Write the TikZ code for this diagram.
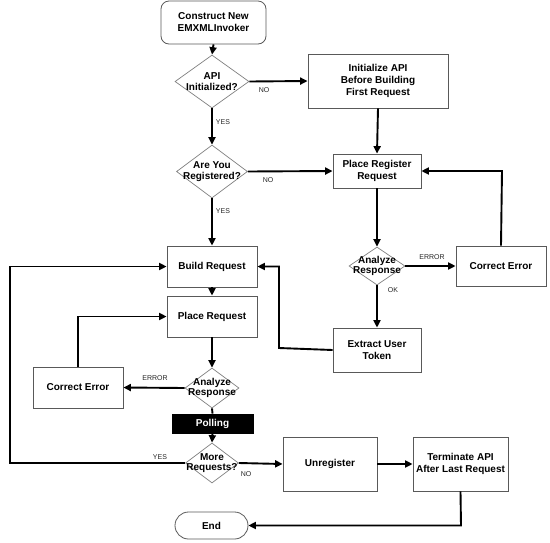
\documentclass[tikz,border=0pt]{standalone}
\usepackage{fontspec}
\setmainfont{Liberation Sans}
\usetikzlibrary{arrows.meta,shapes.geometric,shapes.misc}
\begin{document}
\begin{tikzpicture}[x=1pt,y=-1pt,
  box/.style={draw=black!65,line width=0.8pt,rectangle,inner sep=0pt,align=center,font=\fontsize{10}{12}\selectfont\bfseries},
  dia/.style={draw=black!50,line width=0.7pt,diamond,inner sep=0pt},
  dtext/.style={inner sep=0pt,align=center,font=\fontsize{10}{10.5}\selectfont\bfseries},
  lab/.style={inner sep=0pt,font=\fontsize{7}{8}\selectfont,text=black!85},
  con/.style={line width=1.9pt,-{Triangle[length=7.5pt,width=7pt]}},
  seg/.style={line width=1.9pt}
]
\useasboundingbox (0,0) rectangle (550,542);
\fill[white] (0,0) rectangle (550,542);

% nodes
\node[box,rounded corners=8pt,minimum width=105pt,minimum height=43pt] (start) at (213.5,22.5) {Construct New\\EMXMLInvoker};
\node[dia,minimum width=74pt,minimum height=53pt] (d1) at (212,81.5) {};
\node[dtext] (d1t) at (212,81.5) {API\\Initialized?};
\node[box,minimum width=140pt,minimum height=54pt] (init) at (378,81) {Initialize API\\Before Building\\First Request};
\node[dia,minimum width=71pt,minimum height=53pt] (d2) at (212,171.5) {};
\node[dtext] (d2t) at (212,171.5) {Are You\\Registered?};
\node[box,minimum width=88pt,minimum height=34pt] (reg) at (377,171) {Place Register\\Request};
\node[box,minimum width=90pt,minimum height=41pt] (build) at (212,266.5) {Build Request};
\node[box,minimum width=90pt,minimum height=41pt] (place) at (212,316.5) {Place Request};
\node[dia,minimum width=56pt,minimum height=38pt] (d3) at (377,266) {};
\node[dtext] (d3t) at (377,266) {Analyze\\Response};
\node[box,minimum width=90pt,minimum height=40pt] (err1) at (501,266) {Correct Error};
\node[box,minimum width=88pt,minimum height=44pt] (token) at (377,350) {Extract User\\Token};
\node[dia,minimum width=54pt,minimum height=40pt] (d4) at (212,388) {};
\node[dtext] (d4t) at (212,388) {Analyze\\Response};
\node[box,minimum width=90pt,minimum height=41pt] (err2) at (78,387.5) {Correct Error};
\node[box,draw=black,fill=black,text=white,minimum width=81pt,minimum height=19pt] (poll) at (212.5,423.5) {Polling};
\node[dia,minimum width=53pt,minimum height=40pt] (d5) at (212,463) {};
\node[dtext] (d5t) at (212,463) {More\\Requests?};
\node[box,minimum width=94pt,minimum height=54pt] (unreg) at (330,464) {Unregister};
\node[box,minimum width=95pt,minimum height=54pt] (term) at (460.5,464) {Terminate API\\After Last Request};
\node[box,rounded rectangle,minimum width=73pt,minimum height=27pt] (end) at (211.5,525.5) {End};

% bend coordinates
\coordinate (c1) at (502,171);
\coordinate (c2a) at (279,348);
\coordinate (c2b) at (279,266.5);
\coordinate (c3) at (78,316.5);
\coordinate (c4a) at (10,463);
\coordinate (c4b) at (10,266.5);
\coordinate (c5) at (461,525.5);

% connectors
\draw[con] (start.south) -- (d1.north);
\draw[con] (d1.east) -- (init.west);
\draw[con] (d1.south) -- (d2.north);
\draw[con] (init.south) -- (reg.north);
\draw[con] (d2.east) -- (reg.west);
\draw[con] (d2.south) -- (build.north);
\draw[con] (reg.south) -- (d3.north);
\draw[con] (d3.east) -- (err1.west);
\draw[con] (err1.north) -- (c1) -- (reg.east);
\draw[con] (d3.south) -- (token.north);
\draw[con] (token.west) -- (c2a) -- (c2b) -- (build.east);
\draw[con] (build.south) -- (place.north);
\draw[con] (place.south) -- (d4.north);
\draw[con] (d4.west) -- (err2.east);
\draw[con] (err2.north) -- (c3) -- (place.west);
\draw[seg] (d4.south) -- (poll.north);
\draw[con] (poll.south) -- (d5.north);
\draw[con] (d5.west) -- (c4a) -- (c4b) -- (build.west);
\draw[con] (d5.east) -- (unreg.west);
\draw[con] (unreg.east) -- (term.west);
\draw[con] (term.south) -- (c5) -- (end.east);

% labels
\node[lab] (l1) at (264,90) {NO};
\node[lab] (l2) at (223,122) {YES};
\node[lab] (l3) at (268,180) {NO};
\node[lab] (l4) at (223,211) {YES};
\node[lab] (l5) at (432,257) {ERROR};
\node[lab] (l6) at (393,290) {OK};
\node[lab] (l7) at (155,378) {ERROR};
\node[lab] (l8) at (160,457) {YES};
\node[lab] (l9) at (246,474) {NO};
\end{tikzpicture}
\end{document}
